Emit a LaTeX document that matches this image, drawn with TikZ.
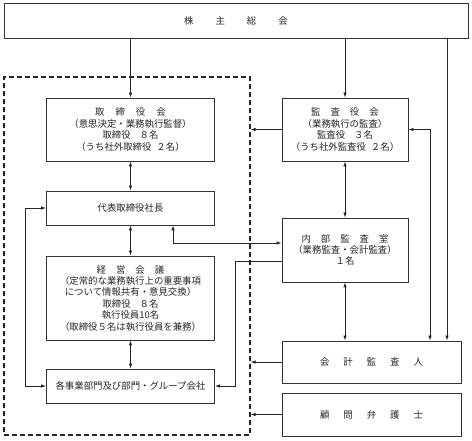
\documentclass[tikz,border=0pt]{standalone}
\usepackage{fontspec}
\setmainfont{Noto Sans CJK JP}
\usetikzlibrary{arrows.meta}
\begin{document}
\begin{tikzpicture}[x=1pt,y=-1pt,
  box/.style={draw=black!80,line width=0.9pt,rectangle,inner sep=0pt,align=center,
    font=\fontsize{9.4}{11.4}\selectfont,text=black!85},
  conn/.style={draw=black!85,line width=0.9pt},
  arr/.style={conn,-{Latex[length=5pt,width=3.6pt]}},
  darr/.style={conn,{Latex[length=5pt,width=3.6pt]}-{Latex[length=5pt,width=3.6pt]}},
  dashbox/.style={draw=black!85,line width=1.1pt,dash pattern=on 5pt off 3pt,rectangle,inner sep=0pt}]
\useasboundingbox (0,0) rectangle (472,441);
\fill[white] (0,0) rectangle (472,441);
\node[dashbox,minimum width=246pt,minimum height=358pt] (dash) at (127,256) {};
\node[box,minimum width=464pt,minimum height=35pt] (top) at (236,20.5) {株\hspace{22pt}主\hspace{22pt}総\hspace{22pt}会};
\node[box,minimum width=168pt,minimum height=63pt] (tori) at (130.5,129.5)
  {取\hspace{11pt}締\hspace{11pt}役\hspace{11pt}会\\（意思決定・業務執行監督）\\取締役\hspace{9pt}８名\\（うち社外取締役\hspace{5pt}２名）};
\node[box,minimum width=168pt,minimum height=34pt] (dai) at (130.5,208) {代表取締役社長};
\node[box,minimum width=168pt,minimum height=84pt] (keiei) at (130.5,298)
  {経\hspace{10pt}営\hspace{10pt}会\hspace{10pt}議\\（定常的な業務執行上の重要事項\\について情報共有・意見交換）\\取締役\hspace{9pt}８名\\執行役員10名\\（取締役５名は執行役員を兼務）};
\node[box,minimum width=168pt,minimum height=34pt] (kaku) at (130.5,386) {各事業部門及び部門・グループ会社};
\node[box,minimum width=126pt,minimum height=63pt] (kansa) at (345,129.5)
  {監\hspace{10pt}査\hspace{10pt}役\hspace{10pt}会\\（業務執行の監査）\\監査役\hspace{9pt}３名\\（うち社外監査役\hspace{5pt}２名）};
\node[box,minimum width=126pt,minimum height=64pt] (naibu) at (345,250)
  {内\hspace{10pt}部\hspace{10pt}監\hspace{10pt}査\hspace{10pt}室\\（業務監査・会計監査）\\１名};
\node[box,minimum width=179pt,minimum height=42pt] (kaikei) at (371.5,362)
  {会\hspace{14pt}計\hspace{14pt}監\hspace{14pt}査\hspace{14pt}人};
\node[box,minimum width=179pt,minimum height=43pt] (komon) at (371.5,414.5)
  {顧\hspace{14pt}問\hspace{14pt}弁\hspace{14pt}護\hspace{14pt}士};
\coordinate (x173) at (173,0);
\coordinate (x430) at (430,0);
\coordinate (x447) at (447,0);
% left column
\draw[arr] (top.south -| tori.north) -- (tori.north);
\draw[darr] (tori.south) -- (dai.north);
\draw[darr] (dai.south) -- (keiei.north);
\draw[darr] (keiei.south) -- (kaku.north);
\draw[darr] (dai.west) -- ++(-21,0) |- (kaku.west);
% right column
\draw[arr] (top.south -| kansa.north) -- (kansa.north);
\draw[arr] (kansa.west) -- (kansa.west -| dash.east);
\draw[darr] (kansa.east) -| (x430 |- kaikei.north);
\draw[arr] (top.south -| x447) -- (x447 |- kaikei.north);
\draw[darr] (kansa.south) -- (naibu.north);
\draw[darr] (naibu.south) -- (naibu.south |- kaikei.north);
\draw[darr] ([yshift=7pt]naibu.west) -| (dai.south -| x173);
\draw[arr] ([yshift=-11pt]naibu.west) -- ++(-46,0) |- (kaku.east);
\draw[arr] (kaikei.west) -- (kaikei.west -| dash.east);
\draw[arr] (komon.west) -- (komon.west -| dash.east);
\end{tikzpicture}
\end{document}
